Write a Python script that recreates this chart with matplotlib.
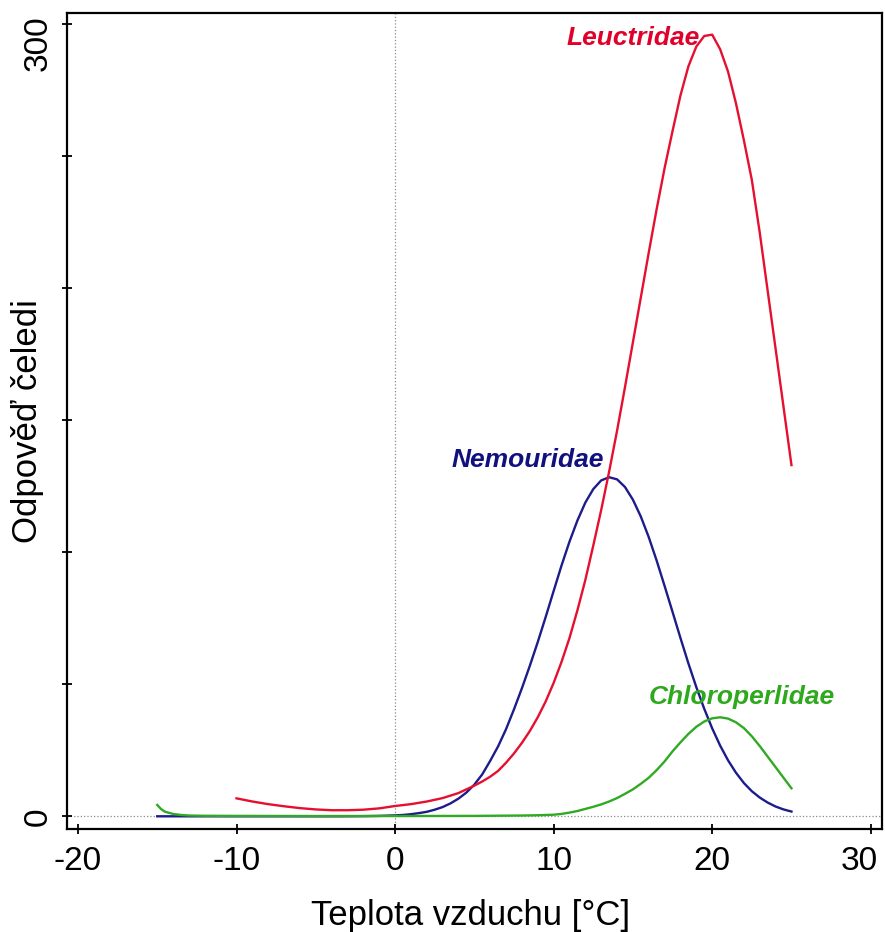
import matplotlib
matplotlib.use("Agg")
import matplotlib.pyplot as plt
import matplotlib.transforms as mtrans

plt.rcParams['font.family'] = ['Liberation Sans', 'DejaVu Sans']

# response curves
t_nemo = [-15, -10, -5, -4, -3, -2, -1, 0, 0.5, 1, 1.5, 2, 2.5, 3, 3.5, 4, 4.5, 5, 5.5, 6, 6.5,
          7, 7.5, 8, 8.5, 9, 9.5, 10, 10.5, 11, 11.5, 12, 12.5, 13, 13.5, 14, 14.5, 15, 15.5,
          16, 16.5, 17, 17.5, 18, 18.5, 19, 19.5, 20, 20.5, 21, 21.5, 22, 22.5, 23, 23.5, 24,
          24.5, 25]
y_nemo = [0, 0, 0, 0, 0.02, 0.06, 0.15, 0.35, 0.5, 0.8, 1.2, 1.7, 2.5, 3.5, 4.9, 6.7, 9.0, 12.0,
          15.9, 21.0, 26.5, 33.0, 40.5, 48.5, 57.0, 66.0, 75.5, 85.3, 95.0, 104.0, 112.0, 118.8,
          123.9, 127.2, 128.4, 127.6, 124.7, 119.9, 113.5, 105.7, 96.8, 87.2, 77.4, 67.5, 57.9,
          48.9, 40.7, 33.3, 26.8, 21.2, 16.5, 12.6, 9.5, 7.1, 5.2, 3.7, 2.6, 1.8]

t_leuc = [-10, -9, -8, -7, -6, -5, -4, -3, -2, -1, 0, 1, 2, 3, 4, 4.5, 5, 5.5, 6, 6.5, 7, 7.5,
          8, 8.5, 9, 9.5, 10, 10.5, 11, 11.5, 12, 12.5, 13, 13.5, 14, 14.5, 15, 15.5, 16, 16.5,
          17, 17.5, 18, 18.5, 19, 19.5, 20, 20.5, 21, 21.5, 22, 22.5, 23, 23.5, 24, 24.5, 25]
y_leuc = [6.8, 5.6, 4.6, 3.8, 3.1, 2.6, 2.3, 2.3, 2.5, 3.0, 3.9, 4.6, 5.6, 6.9, 8.8, 10.2, 11.6,
          13.2, 15.0, 17.2, 20.3, 23.8, 27.8, 32.3, 37.5, 43.5, 50.5, 58.5, 67.5, 78.0, 89.5,
          102.5, 116.0, 130.5, 146.0, 162.5, 179.5, 196.5, 213.5, 230.0, 245.5, 259.5, 273.0,
          284.0, 291.5, 295.5, 296.0, 290.5, 282.0, 270.0, 256.0, 241.0, 221.0, 199.0, 177.0,
          155.0, 133.0]

t_chlo = [-15, -14.75, -14.5, -14, -13.5, -13, -12, -10, -5, 0, 5, 7, 8, 9, 10, 10.5, 11, 11.5,
          12, 12.5, 13, 13.5, 14, 14.5, 15, 15.5, 16, 16.5, 17, 17.5, 18, 18.5, 19, 19.5, 20,
          20.5, 21, 21.5, 22, 22.5, 23, 23.5, 24, 24.5, 25]
y_chlo = [4.3, 2.7, 1.7, 0.9, 0.5, 0.3, 0.2, 0.15, 0.1, 0.1, 0.15, 0.25, 0.3, 0.4, 0.6, 0.9, 1.4,
          2.0, 2.8, 3.6, 4.5, 5.6, 6.9, 8.5, 10.2, 12.3, 14.6, 17.5, 20.8, 24.6, 28.0, 31.2, 33.9,
          35.9, 37.1, 37.5, 37.0, 35.6, 33.4, 30.3, 26.6, 22.6, 18.6, 14.6, 10.6]

red = '#E5102F'
navy = '#1C1C8A'
green = '#2FAA22'

fig = plt.figure(figsize=(8.85, 9.32), dpi=100)
ax = fig.add_axes([67 / 885, 103 / 932, 815 / 885, 816 / 932])

ax.axhline(0, color='#8a8a8a', ls=':', lw=0.9, zorder=1)
ax.axvline(0, color='#8a8a8a', ls=':', lw=0.9, zorder=1)

ax.plot(t_nemo, y_nemo, color=navy, lw=1.7, zorder=3)
ax.plot(t_leuc, y_leuc, color=red, lw=1.7, zorder=3)
ax.plot(t_chlo, y_chlo, color=green, lw=1.7, zorder=3)

lab_kw = dict(fontsize=19, fontweight='bold', style='italic', ha='left', va='center')
ax.text(10.84, 294.7, 'Leuctridae', color='#E0002A', **lab_kw)
ax.text(3.59, 134.9, 'Nemouridae', color='#10107F', **lab_kw)
ax.text(16.0, 45.2, 'Chloroperlidae', color='#2EA81C', **lab_kw)

ax.set_xlim(-20.69, 30.71)
ax.set_ylim(-4.81, 304.2)
ax.set_xticks([-20, -10, 0, 10, 20, 30])
ax.set_xticklabels(['-20', '-10', '0', '10', '20', '30'], fontsize=24)
ax.set_yticks([0, 50, 100, 150, 200, 250, 300])
ax.set_yticklabels(['0', '', '', '', '', '', '300'], fontsize=24, rotation=90, va='center')
ax.tick_params(axis='both', direction='inout', length=6.5, width=1.3)
ax.tick_params(axis='x', pad=9)
ax.tick_params(axis='y', pad=6)
for sp in ax.spines.values():
    sp.set_linewidth(1.6)

# end labels pulled inside the figure, as in the original
lbl = ax.get_yticklabels()[-1]
lbl.set_transform(lbl.get_transform() + mtrans.ScaledTranslation(0, -19 / 100, fig.dpi_scale_trans))
lbl = ax.get_xticklabels()[-1]
lbl.set_transform(lbl.get_transform() + mtrans.ScaledTranslation(-11 / 100, 0, fig.dpi_scale_trans))

fig.text(471 / 885, 1 - 925 / 932, 'Teplota vzduchu [°C]', fontsize=25, ha='center', va='baseline')
fig.text(28 / 885, 1 - 421 / 932, 'Odpověď čeledi', fontsize=25, rotation=90, ha='center', va='center')

fig.savefig('out.png', dpi=100)
